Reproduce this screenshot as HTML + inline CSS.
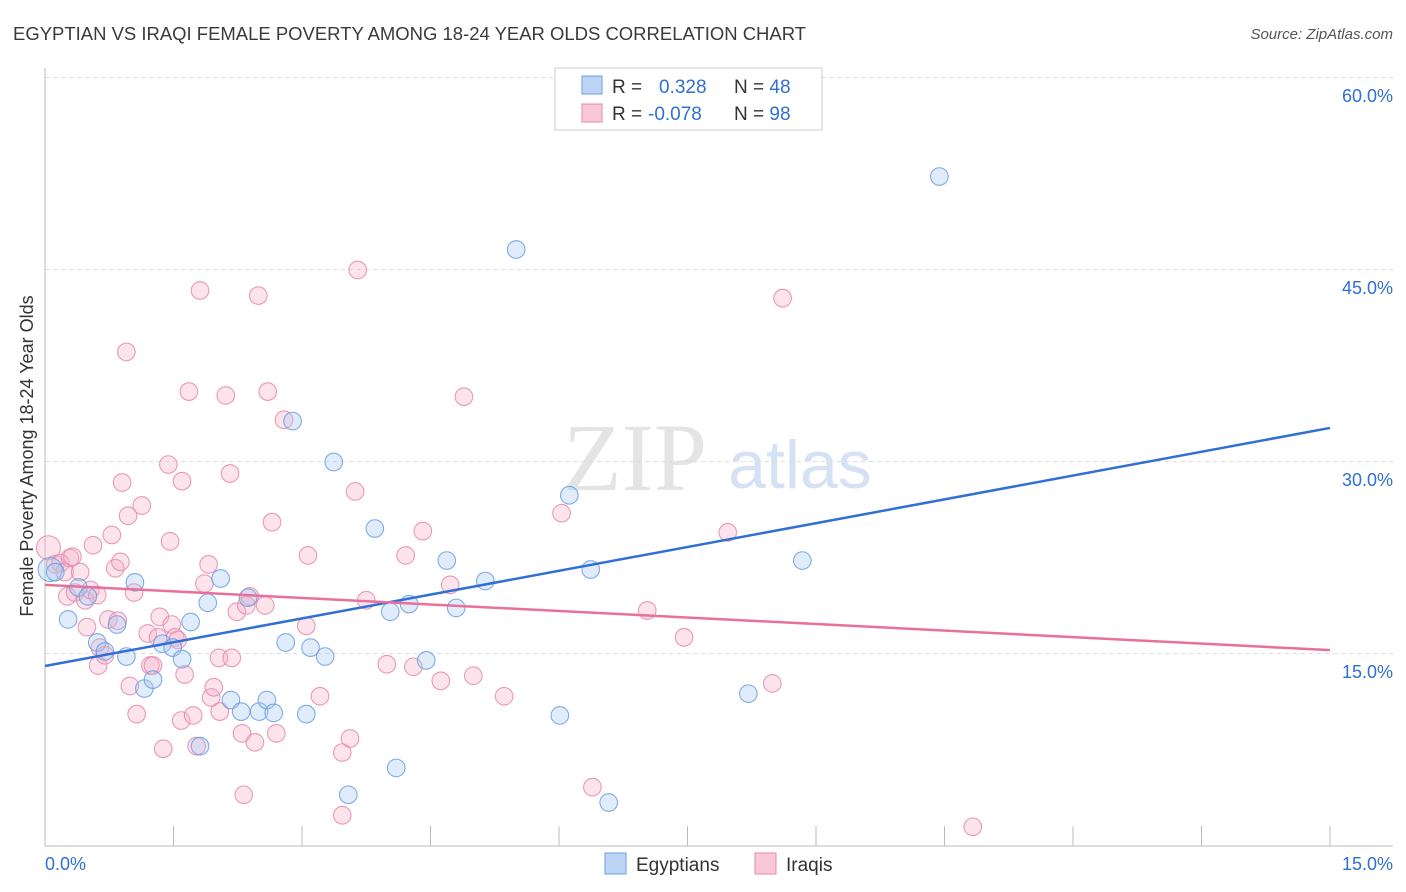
<!DOCTYPE html>
<html><head><meta charset="utf-8"><style>
body{margin:0;background:#fff;font-family:"Liberation Sans",sans-serif;}
svg{display:block}
</style></head><body>
<svg id="chart" width="1406" height="892">
<text x="13" y="40" font-size="18" fill="#3a3a3a" textLength="793" lengthAdjust="spacingAndGlyphs">EGYPTIAN VS IRAQI FEMALE POVERTY AMONG 18-24 YEAR OLDS CORRELATION CHART</text>
<text x="1393" y="39" font-size="15" fill="#555" font-style="italic" text-anchor="end">Source: ZipAtlas.com</text>
<text x="33" y="456" font-size="18" fill="#333" text-anchor="middle" transform="rotate(-90 33 456)">Female Poverty Among 18-24 Year Olds</text>
<g><text x="635" y="490" font-size="96" fill="#e4e4e4" font-family="Liberation Serif,serif" text-anchor="middle">ZIP</text><text x="800" y="488" font-size="68" fill="#d6e2f4" text-anchor="middle">atlas</text></g>
<g id="grid"></g><g id="axes"></g><g id="marks"></g>
<g>
<rect x="555" y="68" width="267" height="62" fill="#fff" stroke="#ccc"/>
<rect x="582" y="76" width="20" height="18" fill="#bcd5f5" stroke="#6a9fe0"/>
<rect x="582" y="104" width="20" height="18" fill="#f9c8d8" stroke="#e888a8"/>
<text x="612" y="93" font-size="19" fill="#333">R = <tspan fill="#2f6fd6" x="659">0.328</tspan><tspan x="734">N = </tspan><tspan fill="#2f6fd6">48</tspan></text>
<text x="612" y="120" font-size="19" fill="#333">R = <tspan fill="#2f6fd6" x="648">-0.078</tspan><tspan x="734">N = </tspan><tspan fill="#2f6fd6">98</tspan></text>
</g>
<g>
<rect x="605" y="853" width="21" height="21" fill="#bcd5f5" stroke="#6a9fe0"/>
<text x="636" y="871" font-size="19" fill="#333">Egyptians</text>
<rect x="755" y="853" width="21" height="21" fill="#f9c8d8" stroke="#e888a8"/>
<text x="786" y="871" font-size="19" fill="#333">Iraqis</text>
</g>
</svg>
<script>
const blueX=[0.06,0.12,0.27,0.39,0.50,0.61,0.70,0.84,0.95,1.05,1.16,1.26,1.37,1.49,1.60,1.70,1.90,2.05,1.81,2.17,2.29,2.37,2.50,2.59,2.67,2.81,2.89,3.05,3.10,3.27,3.37,3.54,3.85,4.03,4.10,4.25,4.45,4.69,4.80,5.14,5.50,6.01,6.12,6.37,6.58,8.21,8.84,10.44];
const blueY=[21.6,21.4,17.7,20.2,19.5,15.9,15.2,17.3,14.8,20.6,12.3,13.0,15.8,15.5,14.6,17.5,19.0,20.9,7.8,11.4,10.5,19.4,10.5,11.4,10.4,15.9,33.2,10.3,15.5,14.8,30.0,4.0,24.8,18.3,6.1,18.9,14.5,22.3,18.6,20.7,46.6,10.2,27.4,21.6,3.4,11.9,22.3,52.3];
const pinkX=[0.04,0.12,0.18,0.23,0.29,0.26,0.32,0.35,0.41,0.47,0.49,0.53,0.56,0.61,0.62,0.64,0.70,0.74,0.78,0.82,0.88,0.90,0.85,0.95,0.97,0.99,1.04,1.07,1.13,1.20,1.23,1.26,1.32,1.34,1.38,1.44,1.46,1.48,1.52,1.55,1.59,1.60,1.63,1.68,1.73,1.77,1.81,1.86,1.91,1.94,1.97,2.03,2.04,2.11,2.16,2.18,2.24,2.30,2.32,2.35,2.39,2.45,2.49,2.57,2.60,2.65,2.70,2.79,3.05,3.07,3.21,3.47,3.56,3.47,3.62,3.65,3.75,3.99,4.21,4.30,4.41,4.62,4.73,4.89,5.00,5.36,6.03,6.39,7.03,7.46,7.97,8.49,8.61,10.83];
const pinkY=[23.3,22.0,22.1,21.4,22.5,19.5,22.6,19.8,21.4,19.2,17.1,20.0,23.5,19.6,14.1,15.5,14.9,17.7,24.3,21.7,22.2,28.4,17.6,38.6,25.8,12.5,19.8,10.3,26.6,16.6,14.1,14.1,16.3,17.9,7.6,29.8,23.8,17.3,16.3,16.1,9.8,28.5,13.4,35.5,10.2,7.8,43.4,20.5,22.0,11.6,12.4,14.7,10.5,35.2,29.1,14.7,18.3,8.8,4.0,18.8,19.5,8.1,43.0,18.8,35.5,25.3,8.8,33.3,17.2,22.7,11.7,7.3,8.4,2.4,27.7,45.0,19.2,14.2,22.7,14.0,24.6,12.9,20.4,35.1,13.3,11.7,26.0,4.6,18.4,16.3,24.5,12.7,42.8,1.5];
const blueTrend=[14.06,32.66];
const pinkTrend=[20.4,15.3];
const yTicks=[15,30,45,60];
const xTickVals=[0,1.5,3,4.5,6,7.5,9,10.5,12,13.5,15];
const NS='http://www.w3.org/2000/svg';
const X=v=>45+v*(1285/15), Y=v=>846-v*12.8;
function mk(tag,attrs,parent){const e=document.createElementNS(NS,tag);for(const k in attrs)e.setAttribute(k,attrs[k]);parent.appendChild(e);return e;}
const grid=document.getElementById('grid'),axes=document.getElementById('axes'),marks=document.getElementById('marks');
yTicks.forEach(t=>{
 const l=mk('line',{x1:45,x2:1393,y1:Y(t)-0.5,y2:Y(t)-0.5,stroke:'#ddd','stroke-dasharray':'4,4'},grid);
 
 
 const tx=mk('text',{x:1393,y:Y(t)+24,'font-size':18,fill:'#2f6fd6','text-anchor':'end'},axes);
 tx.textContent=t.toFixed(1)+'%';
 
 
});
const ax=mk('line',{x1:45,x2:45,y1:68,y2:846,stroke:'#bbb'},axes);


const bx=mk('line',{x1:45,x2:1393,y1:846,y2:846,stroke:'#bbb'},axes);


xTickVals.forEach(t=>{
 const tk=mk('line',{x1:X(t),x2:X(t),y1:826,y2:846,stroke:'#bbb'},axes);
 
 
});
[[0,'start',45],[15,'end',1393]].forEach(([v,a,x])=>{
 const t=mk('text',{x:x,y:870,'font-size':18,fill:'#2f6fd6','text-anchor':a},axes);
 t.textContent=v.toFixed(1)+'%';
 
 
});
function pts(xs,ys,fill,stroke,name){xs.forEach((x,i)=>{
 const c=mk('circle',{cx:X(x),cy:Y(ys[i]),r:(i===0?12:8.8),fill:fill,'fill-opacity':0.35,stroke:stroke,'stroke-width':1.1,'stroke-opacity':0.85},marks);
 
 
});}
pts(pinkX,pinkY,'#f5b0c8','#e58aaa','iraqi-point');
pts(blueX,blueY,'#a8c8f0','#6a9fe0','egyptian-point');
const bl=mk('line',{x1:X(0),y1:Y(blueTrend[0]),x2:X(15),y2:Y(blueTrend[1]),stroke:'#2f6fd6','stroke-width':2.5},marks);


const pl=mk('line',{x1:X(0),y1:Y(pinkTrend[0]),x2:X(15),y2:Y(pinkTrend[1]),stroke:'#e8709a','stroke-width':2.5},marks);


</script>
</body></html>
